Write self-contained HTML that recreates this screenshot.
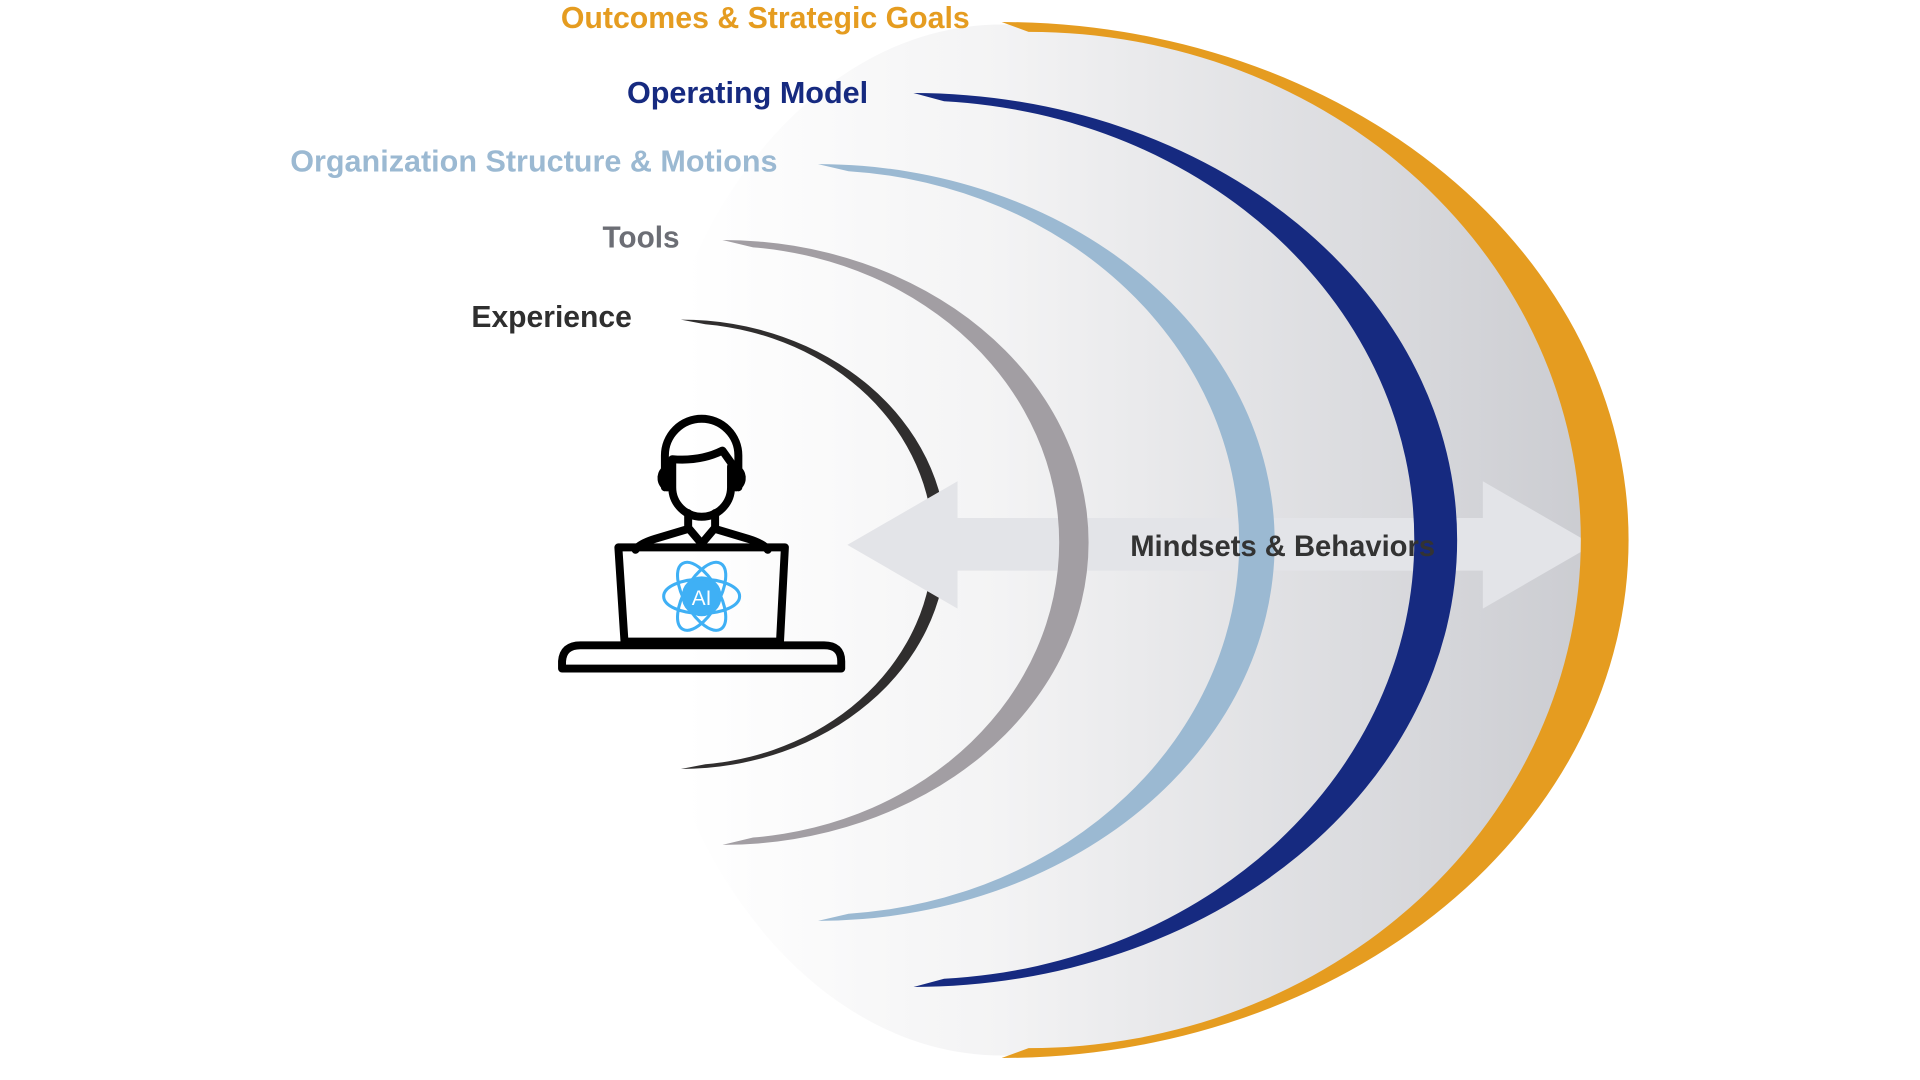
<!DOCTYPE html>
<html><head><meta charset="utf-8"><style>
html,body{margin:0;padding:0;background:#fff;width:1920px;height:1080px;overflow:hidden}
svg{display:block}
text{font-family:"Liberation Sans",sans-serif;font-weight:bold}
</style></head><body>
<svg width="1920" height="1080" viewBox="0 0 1568 882" xmlns="http://www.w3.org/2000/svg">
<defs>
<linearGradient id="bg" x1="560" y1="0" x2="1300" y2="0" gradientUnits="userSpaceOnUse">
<stop offset="0" stop-color="#ffffff"/>
<stop offset="0.35" stop-color="#f3f3f4"/>
<stop offset="1" stop-color="#cbccd1"/>
</linearGradient>
</defs>
<path d="M818 20 A482 421 0 0 1 818 862 A300 421 0 0 1 818 20 Z" fill="url(#bg)"/>
<path id="a1" fill="#302e2e"/>
<path d="M692 445 L782 393 L782 423 L1211 423 L1211 393 L1301 445 L1211 497 L1211 466 L782 466 L782 497 Z" fill="#e3e4e8"/>
<path id="a2" fill="#a29ea3"/>
<path id="a3" fill="#9bb9d2"/>
<path id="a4" fill="#162a80"/>
<path d="M818 18 A512 423 0 0 1 818 864 L840 856 A451 415 0 0 0 840 26 Z" fill="#e59c20"/>
<text x="1172" y="454" font-size="24" fill="#333" text-anchor="end" textLength="249" lengthAdjust="spacingAndGlyphs">Mindsets &amp; Behaviors</text>
<text x="792" y="23" font-size="25" fill="#e59c20" text-anchor="end" textLength="334" lengthAdjust="spacingAndGlyphs">Outcomes &amp; Strategic Goals</text>
<text x="709" y="84" font-size="25" fill="#162a80" text-anchor="end" textLength="197" lengthAdjust="spacingAndGlyphs">Operating Model</text>
<text x="635" y="140" font-size="25" fill="#9bb9d2" text-anchor="end" textLength="398" lengthAdjust="spacingAndGlyphs">Organization Structure &amp; Motions</text>
<text x="555" y="202" font-size="25" fill="#6c6e75" text-anchor="end" textLength="63" lengthAdjust="spacingAndGlyphs">Tools</text>
<text x="516" y="267" font-size="25" fill="#2f2f2f" text-anchor="end" textLength="131" lengthAdjust="spacingAndGlyphs">Experience</text>
<g fill="none" stroke="#000" stroke-width="6.5" stroke-linejoin="round" stroke-linecap="round">
<path d="M543 398 L543 372 A30 30 0 0 1 603 372 L603 398"/>
<path d="M549 375 Q572 377 590 368 L600 382"/>
<path d="M549 376 L549 398 A24 24 0 0 0 597 398 L597 381"/>
<path d="M543 384 A7 8 0 0 0 545 398 M603 384 A7 8 0 0 1 601 398"/>
<path d="M562 419 L562 431 L573 444 L584 431 L584 419"/>
<path d="M562 432 L535 440 Q522 444 519 449 M584 432 L611 440 Q624 444 627 449"/>
<path d="M505 447 L641 447 L637 524 L510 524 Z"/>
<path d="M459 546 L459 540 Q460 527 474 527 L673 527 Q687 527 687 540 L687 546 Z"/>
</g>
<g fill="none" stroke="#3fb0f5" stroke-width="2.5">
<circle cx="573" cy="487" r="15" fill="#3fb0f5"/>
<ellipse cx="573" cy="487" rx="31" ry="14"/>
<ellipse cx="573" cy="487" rx="31" ry="14" transform="rotate(60 573 487)"/>
<ellipse cx="573" cy="487" rx="31" ry="14" transform="rotate(-60 573 487)"/>
</g>
<text x="573" y="494" font-size="17" fill="#fff" text-anchor="middle" style="font-weight:normal">AI</text>
</svg>
<script>
function arc(id,x0,yt,yb,xm,t,tt,e){
 var yc=(yt+yb)/2, ry=(yb-yt)/2, rx=xm-x0, rxi=rx-t, ryi=ry-tt;
 var dy=ryi*Math.sqrt(1-Math.pow(e/rxi,2));
 var d="M"+x0+" "+yt+" A"+rx+" "+ry+" 0 0 1 "+x0+" "+yb+" L"+(x0+e)+" "+(yc+dy)+" A"+rxi+" "+ryi+" 0 0 0 "+(x0+e)+" "+(yc-dy)+" Z";
 document.getElementById(id).setAttribute("d",d);
}
arc("a1",556,261,628,773,11,3,20);
arc("a2",590,196,690,889,24,5,25);
arc("a3",668,134,752,1041,29,5,25);
arc("a4",746,76,806,1190,35,6,25);
</script>
</body></html>
